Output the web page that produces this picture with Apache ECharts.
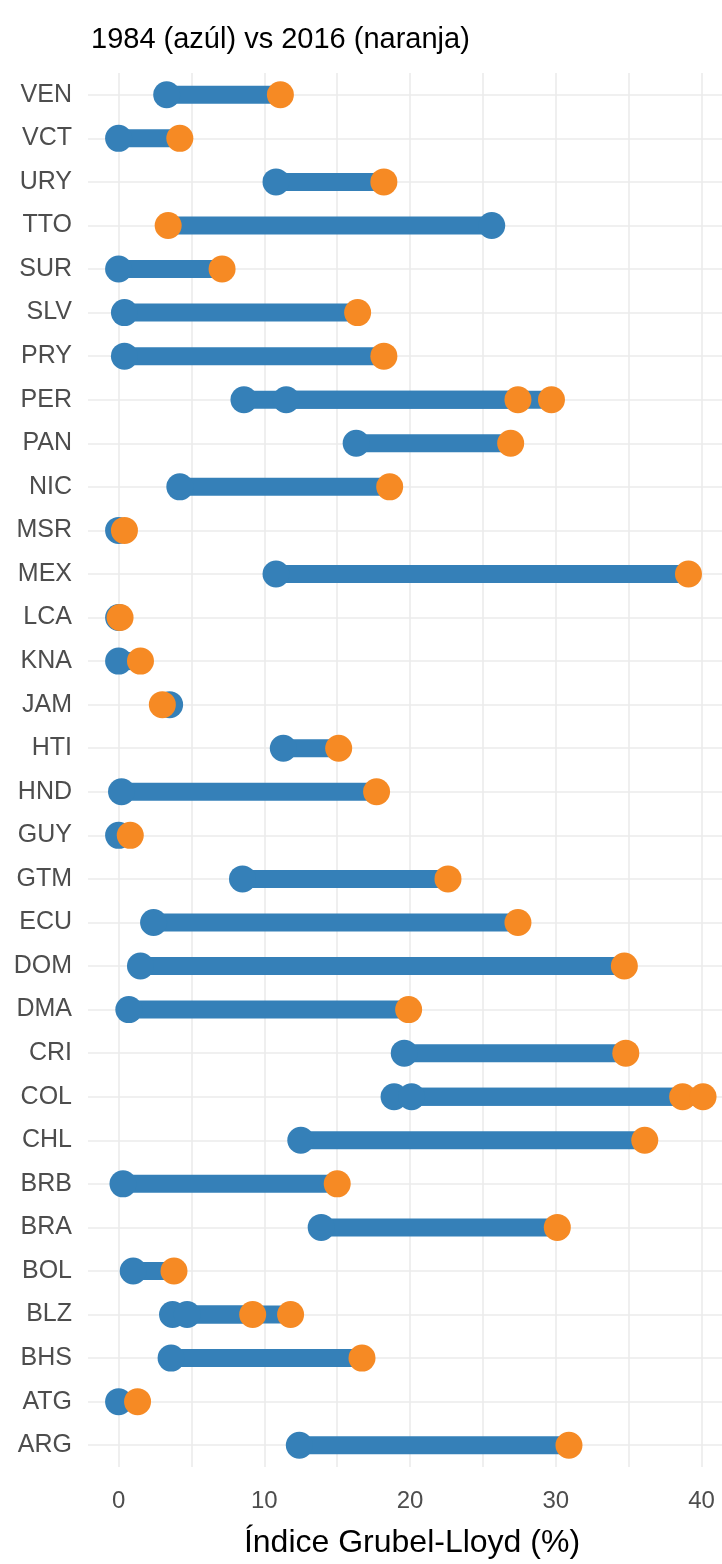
<!DOCTYPE html>
<html lang="es">
<head>
<meta charset="UTF-8">
<title>Grubel-Lloyd 1984 vs 2016</title>
<style>
  html, body { margin: 0; padding: 0; background: #fff; }
  #main { width: 722px; height: 1564px; }
</style>
</head>
<body>
<div id="main"></div>
<script src="https://cdn.jsdelivr.net/npm/echarts@6/dist/echarts.min.js"></script>
<script>
// categorias (de arriba hacia abajo)
var paises = ['VEN', 'VCT', 'URY', 'TTO', 'SUR', 'SLV', 'PRY', 'PER', 'PAN', 'NIC',
  'MSR', 'MEX', 'LCA', 'KNA', 'JAM', 'HTI', 'HND', 'GUY', 'GTM', 'ECU', 'DOM', 'DMA',
  'CRI', 'COL', 'CHL', 'BRB', 'BRA', 'BOL', 'BLZ', 'BHS', 'ATG', 'ARG'];

// una fila por par (algunos paises aparecen dos veces)
var filas = ['VEN', 'VCT', 'URY', 'TTO', 'SUR', 'SLV', 'PRY', 'PER', 'PER', 'PAN', 'NIC',
  'MSR', 'MEX', 'LCA', 'KNA', 'JAM', 'HTI', 'HND', 'GUY', 'GTM', 'ECU', 'DOM', 'DMA',
  'CRI', 'COL', 'COL', 'CHL', 'BRB', 'BRA', 'BOL', 'BLZ', 'BLZ', 'BHS', 'ATG', 'ARG'];
var gl1984 = [3.3, 0.0, 10.8, 25.6, 0.0, 0.4, 0.4, 8.6, 11.5, 16.3, 4.2,
  0.0, 10.8, 0.0, 0.0, 3.5, 11.3, 0.2, 0.0, 8.5, 2.4, 1.5, 0.7,
  19.6, 18.9, 20.1, 12.5, 0.3, 13.9, 1.0, 3.7, 4.7, 3.6, 0.0, 12.4];
var gl2016 = [11.1, 4.2, 18.2, 3.4, 7.1, 16.4, 18.2, 27.4, 29.7, 26.9, 18.6,
  0.4, 39.1, 0.1, 1.5, 3.0, 15.1, 17.7, 0.8, 22.6, 27.4, 34.7, 19.9,
  34.8, 38.7, 40.1, 36.1, 15.0, 30.1, 3.8, 9.2, 11.8, 16.7, 1.3, 30.9];

var ticksX = [0, 10, 20, 30, 40];
var gridX = [0, 5, 10, 15, 20, 25, 30, 35, 40];

var azul = '#3580b8';
var naranja = '#f68a24';
var fuente = 'Liberation Sans, Arial, sans-serif';

var segmentos = filas.map(function (p, i) { return [gl1984[i], gl2016[i], p]; });
var puntos84 = filas.map(function (p, i) { return [gl1984[i], p]; });
var puntos16 = filas.map(function (p, i) { return [gl2016[i], p]; });

var myChart = echarts.init(document.getElementById('main'));
var option = {
  backgroundColor: '#ffffff',
  animation: false,
  textStyle: { fontFamily: fuente },
  title: {
    text: '1984 (azúl) vs 2016 (naranja)',
    left: 86, top: 20,
    textStyle: { fontSize: 29, lineHeight: 29, fontWeight: 'normal', color: '#000', fontFamily: fuente }
  },
  grid: { left: 88, right: 0, top: 73, bottom: 93, containLabel: false },
  xAxis: {
    type: 'value',
    min: -2.1, max: 41.4,
    name: 'Índice Grubel-Lloyd (%)',
    nameLocation: 'middle',
    nameGap: 60,
    // el panel original sigue un poco mas alla del borde derecho
    nameTextStyle: { fontSize: 32, color: '#000', padding: [0, 0, 0, 14] },
    axisLine: { show: false },
    axisTick: { show: false, customValues: gridX },
    axisLabel: { customValues: ticksX, fontSize: 24, color: '#4d4d4d', margin: 22 },
    splitLine: { show: true, lineStyle: { color: '#ebebeb', width: 1.6 } }
  },
  yAxis: {
    type: 'category',
    data: paises,
    inverse: true,
    axisLine: { show: false },
    axisTick: { show: false, alignWithLabel: true },
    axisLabel: { fontSize: 25, color: '#4d4d4d', margin: 16 },
    splitLine: { show: true, alignWithLabel: true, lineStyle: { color: '#ebebeb', width: 1.6 } }
  },
  series: [
    {
      type: 'custom',
      data: segmentos,
      encode: { x: [0, 1], y: 2 },
      z: 1,
      renderItem: function (params, api) {
        var a = api.coord([api.value(0), api.value(2)]);
        var b = api.coord([api.value(1), api.value(2)]);
        return {
          type: 'line',
          shape: { x1: a[0], y1: a[1], x2: b[0], y2: b[1] },
          style: { stroke: azul, lineWidth: 18, lineCap: 'butt' }
        };
      }
    },
    {
      type: 'scatter',
      data: puntos84,
      symbolSize: 27,
      itemStyle: { color: azul, opacity: 1 },
      z: 2
    },
    {
      type: 'scatter',
      data: puntos16,
      symbolSize: 27,
      itemStyle: { color: naranja, opacity: 1 },
      z: 3
    }
  ]
};
myChart.setOption(option);
</script>
</body>
</html>
